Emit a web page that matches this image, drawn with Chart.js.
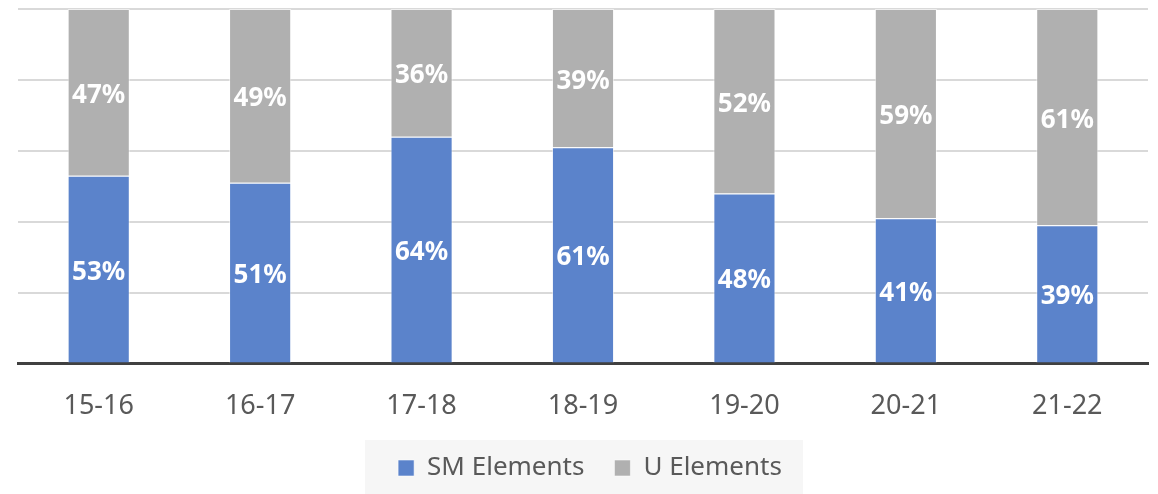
<!DOCTYPE html>
<html>
<head>
<meta charset="utf-8">
<script src="https://cdn.jsdelivr.net/npm/chart.js@4"></script>
<style>
  html, body { margin: 0; padding: 0; background: #fff; }
  #wrap { width: 1158px; height: 494px; }
</style>
</head>
<body>
<div id="wrap"><canvas id="chart"></canvas></div>
<script>
// datos del grafico
const categories = ['15-16', '16-17', '17-18', '18-19', '19-20', '20-21', '21-22'];
const smElements = [53, 51, 64, 61, 48, 41, 39];
const uElements = [47, 49, 36, 39, 52, 59, 61];
const seriesNames = ['SM Elements', 'U Elements'];

const FONT = '"Noto Sans", "Open Sans", sans-serif';

// mueve la leyenda un poco a la derecha y pinta su fondo gris claro
const legendBg = {
    id: 'legendBg',
    afterLayout(chart) {
        const lg = chart.legend;
        lg.left += 7;
        lg.right += 7;
    },
    beforeDraw(chart) {
        const lg = chart.legend;
        if (!lg) return;
        const center = (lg.left + lg.right) / 2;
        const ctx = chart.ctx;
        ctx.save();
        ctx.fillStyle = '#f6f6f6';
        ctx.fillRect(center - 225, 440, 438, 60);
        ctx.restore();
    }
};

// etiquetas de porcentaje dentro de las barras
const barLabels = {
    id: 'barLabels',
    afterDatasetsDraw(chart) {
        const ctx = chart.ctx;
        ctx.save();
        ctx.font = 'bold 26px ' + FONT;
        ctx.fillStyle = '#ffffff';
        ctx.textAlign = 'center';
        ctx.textBaseline = 'middle';
        chart.data.datasets.forEach(function(ds, i) {
            chart.getDatasetMeta(i).data.forEach(function(bar, j) {
                const y = (bar.y + bar.base) / 2;
                ctx.fillText(ds.data[j] + '%', bar.x, y + 3);
            });
        });
        ctx.restore();
    }
};

const ctx = document.getElementById('chart').getContext('2d');
const chart = new Chart(ctx, {
    type: 'bar',
    data: {
        labels: categories,
        datasets: [{
            label: seriesNames[0],
            data: smElements,
            backgroundColor: '#5b83cb',
            borderColor: 'rgba(255,255,255,0.55)',
            borderWidth: 1,
            barPercentage: 0.385,
            categoryPercentage: 1
        }, {
            label: seriesNames[1],
            data: uElements,
            backgroundColor: '#b0b0b0',
            borderColor: 'rgba(255,255,255,0.55)',
            borderWidth: 1,
            barPercentage: 0.385,
            categoryPercentage: 1
        }]
    },
    options: {
        responsive: true,
        maintainAspectRatio: false,
        animation: false,
        layout: {
            padding: { top: 9, left: 18, right: 10, bottom: 3 }
        },
        scales: {
            x: {
                stacked: true,
                grid: { display: false, drawTicks: false },
                border: { display: true, color: '#404040', width: 3 },
                ticks: {
                    color: '#595959',
                    font: { family: FONT, size: 27 },
                    padding: 27
                },
                afterFit: function(scale) {
                    scale.height -= 25;
                }
            },
            y: {
                stacked: true,
                min: 0,
                max: 100,
                ticks: { display: false, stepSize: 20 },
                grid: { color: '#d9d9d9', lineWidth: 2, drawTicks: false },
                border: { display: false }
            }
        },
        plugins: {
            legend: {
                position: 'bottom',
                labels: {
                    color: '#595959',
                    font: { family: FONT, size: 26 },
                    boxWidth: 16,
                    boxHeight: 16,
                    padding: 30
                }
            },
            tooltip: { enabled: false }
        }
    },
    plugins: [legendBg, barLabels]
});
</script>
</body>
</html>
